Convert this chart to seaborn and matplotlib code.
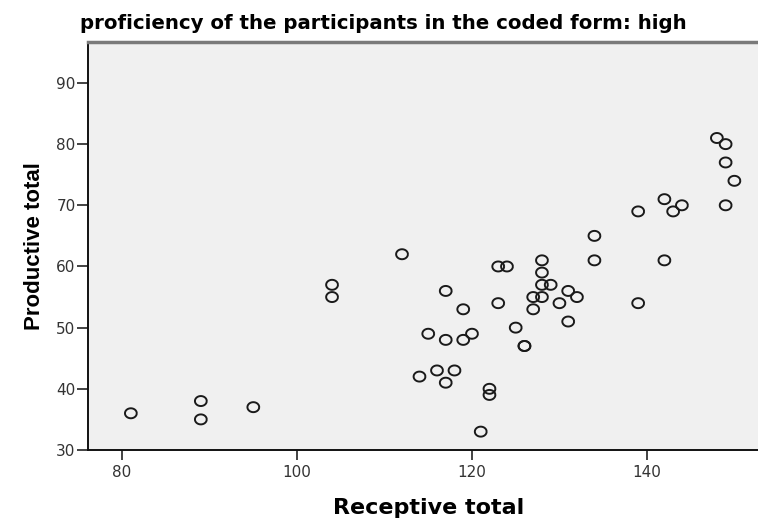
import matplotlib
matplotlib.use("Agg")
import matplotlib.pyplot as plt
import seaborn as sns
import pandas as pd
import numpy as np

receptive = [81, 89, 89, 95, 104, 104, 112, 114, 115, 116, 117, 117, 117, 118, 119, 119,
             120, 121, 122, 122, 123, 123, 124, 125, 126, 126, 127, 127, 128, 128, 128, 128,
             129, 130, 131, 131, 132, 134, 134, 139, 139, 142, 142, 143, 144, 148, 149, 149,
             149, 150]
productive = [36, 38, 35, 37, 57, 55, 62, 42, 49, 43, 56, 48, 41, 43, 53, 48,
              49, 33, 40, 39, 60, 54, 60, 50, 47, 47, 55, 53, 61, 59, 57, 55,
              57, 54, 56, 51, 55, 65, 61, 69, 54, 71, 61, 69, 70, 81, 80, 77,
              70, 74]

title = "proficiency of the participants in the coded form: high"
x_label = "Receptive total"
y_label = "Productive total"
x_ticks = [80, 100, 120, 140]
y_ticks = [30, 40, 50, 60, 70, 80, 90]

df = pd.DataFrame({x_label: receptive, y_label: productive})

sns.set_theme(style="white")
plt.rcParams['font.family'] = ['DejaVu Sans']

fig = plt.figure(figsize=(7.58, 5.18), dpi=100)
ax = fig.add_axes([0.1161, 0.1313, 0.8839, 0.7877])
ax.set_facecolor("#f0f0f0")

# slightly wide open ellipse marker (the reference is horizontally stretched)
t = np.linspace(0, 2 * np.pi, 41)
ellipse = list(zip(1.18 * np.cos(t), np.sin(t)))

sns.scatterplot(data=df, x=x_label, y=y_label, ax=ax, marker=ellipse,
                facecolor="none", edgecolor="#1a1a1a", linewidth=1.4, s=72)

ax.set_xlim(76.1, 152.7)
ax.set_ylim(30, 96.7)
ax.set_xticks(x_ticks)
ax.set_yticks(y_ticks)
ax.tick_params(axis="both", which="both", direction="out", width=1.2,
               color="#222222", labelsize=11, labelcolor="#333333",
               bottom=True, left=True)
ax.tick_params(axis="x", length=7, pad=4)
ax.tick_params(axis="y", length=8, pad=1)

for side in ["left", "bottom"]:
    ax.spines[side].set_color("#111111")
    ax.spines[side].set_linewidth(1.4)
ax.spines["top"].set_color("#7a7a7a")
ax.spines["top"].set_linewidth(2.5)
ax.spines["right"].set_visible(False)

ax.set_xlabel(x_label, fontsize=16, fontweight="bold", color="black")
ax.xaxis.set_label_coords(0.508, -0.118)
ax.set_ylabel(y_label, fontsize=16, fontweight="bold", labelpad=8, color="black",
              family="Liberation Sans")
fig.text(0.105, 0.955, title, fontsize=14.2, fontweight="bold", ha="left", va="center",
         color="black")

fig.savefig("out.png", dpi=100, facecolor="white")
